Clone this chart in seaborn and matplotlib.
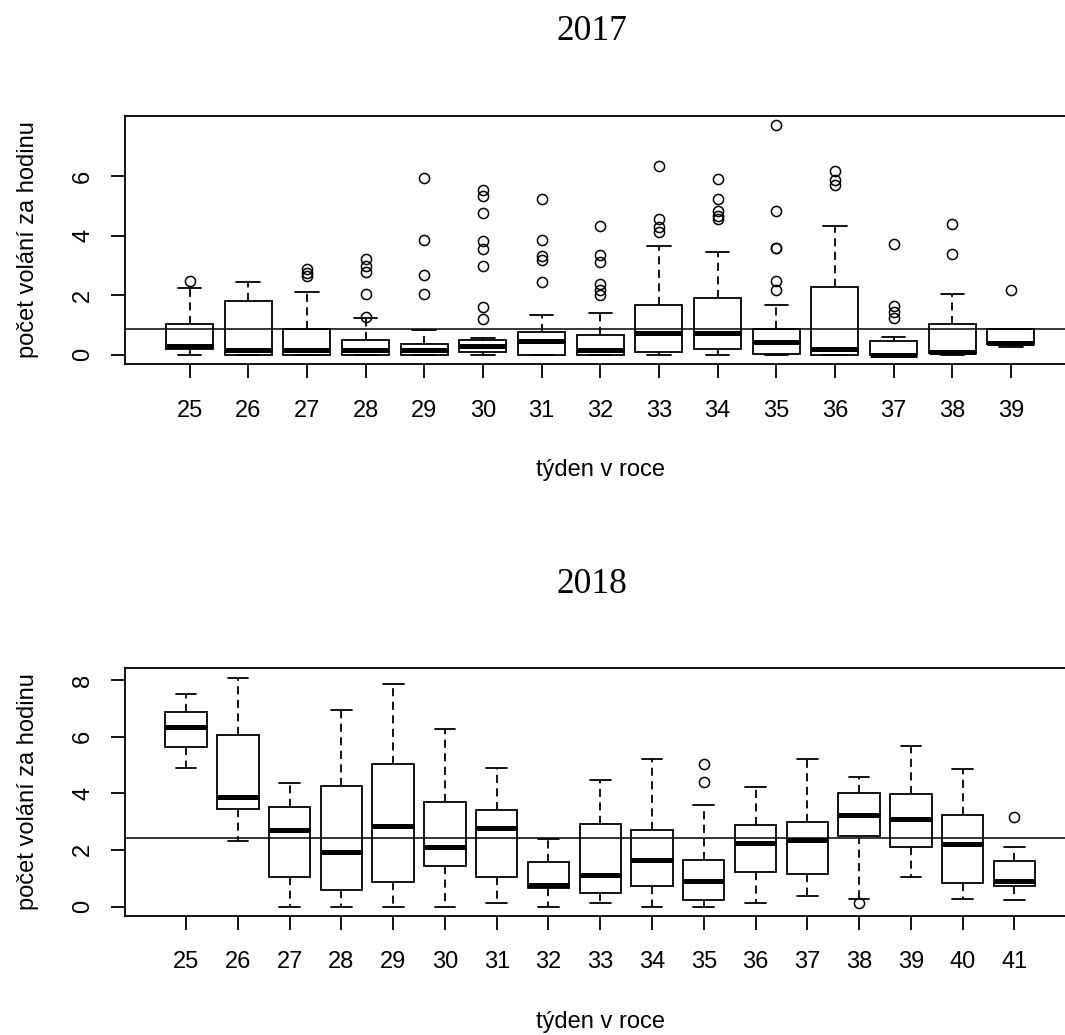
import matplotlib
matplotlib.use("Agg")
import matplotlib.pyplot as plt
import numpy as np
import pandas as pd
import seaborn as sns

# ---------------- data ----------------
weeks_2017 = [25, 26, 27, 28, 29, 30, 31, 32, 33, 34, 35, 36, 37, 38, 39]
lo_2017 = [0, 0, 0, 0, 0, 0, 0, 0, 0, 0, 0, 0, 0, 0, 0.26]
q1_2017 = [0.20, 0, 0, 0, 0, 0.09, 0, 0, 0.09, 0.20, 0.03, 0, 0, 0.06, 0.37]
med_2017 = [0.28, 0.15, 0.15, 0.17, 0.17, 0.28, 0.48, 0.17, 0.74, 0.74, 0.42, 0.20, 0.0, 0.09, 0.40]
q3_2017 = [1.04, 1.82, 0.87, 0.50, 0.35, 0.50, 0.78, 0.67, 1.66, 1.92, 0.85, 2.27, 0.48, 1.04, 0.85]
hi_2017 = [2.23, 2.44, 2.10, 1.24, 0.84, 0.56, 1.35, 1.41, 3.65, 3.44, 1.66, 4.32, 0.61, 2.04, 0.85]
out_2017 = [
    [2.49],
    [],
    [2.64, 2.74, 2.88],
    [1.26, 2.04, 2.77, 2.97, 3.22],
    [2.04, 2.66, 3.85, 5.94],
    [1.21, 1.62, 2.97, 3.55, 3.83, 4.75, 5.34, 5.53],
    [2.44, 3.18, 3.33, 3.85, 5.22],
    [2.02, 2.18, 2.36, 3.11, 3.36, 4.32],
    [4.12, 4.30, 4.55, 6.32],
    [4.55, 4.67, 4.82, 5.22, 5.89],
    [2.16, 2.49, 3.58, 3.58, 4.82, 7.70],
    [5.71, 5.87, 6.16],
    [1.24, 1.45, 1.65, 3.70],
    [3.39, 4.38],
    [2.19],
]
mean_2017 = 0.87

weeks_2018 = [25, 26, 27, 28, 29, 30, 31, 32, 33, 34, 35, 36, 37, 38, 39, 40, 41]
lo_2018 = [4.91, 2.32, 0, 0, 0, 0, 0.11, 0, 0.11, 0, 0, 0.11, 0.39, 0.28, 1.05, 0.28, 0.24]
q1_2018 = [5.62, 3.46, 1.04, 0.57, 0.88, 1.44, 1.04, 0.67, 0.49, 0.71, 0.24, 1.21, 1.15, 2.50, 2.09, 0.82, 0.72]
med_2018 = [6.35, 3.86, 2.70, 1.93, 2.86, 2.10, 2.76, 0.75, 1.10, 1.65, 0.90, 2.26, 2.36, 3.25, 3.09, 2.22, 0.90]
q3_2018 = [6.89, 6.06, 3.53, 4.25, 5.02, 3.70, 3.42, 1.56, 2.92, 2.70, 1.65, 2.87, 2.98, 4.00, 3.97, 3.22, 1.61]
hi_2018 = [7.51, 8.09, 4.36, 6.93, 7.88, 6.28, 4.91, 2.40, 4.47, 5.23, 3.58, 4.24, 5.23, 4.57, 5.67, 4.87, 2.09]
out_2018 = [[], [], [], [], [], [], [], [], [], [], [4.39, 5.05], [], [], [0.11], [], [], [3.15]]
mean_2018 = 2.43

title_2017 = "2017"
title_2018 = "2018"
xlabel_txt = "týden v roce"
ylabel_txt = "počet volání za hodinu"


def build_frame(weeks, lo, q1, med, q3, hi, outs, k=20):
    """Sample whose quartiles / whiskers / outliers equal the read values."""
    rows = []
    for w, a, b, c, d, e, o in zip(weeks, lo, q1, med, q3, hi, outs):
        vals = [a, e] + list(o) + [b] * k + [c] * k + [d] * k
        rows += [(str(w), v) for v in vals]
    return pd.DataFrame(rows, columns=["week", "value"])


# ---------------- style ----------------
sns.set_style("ticks")
plt.rcParams["font.family"] = ["Liberation Sans", "DejaVu Sans"]
plt.rcParams["axes.edgecolor"] = "black"
plt.rcParams["xtick.color"] = "black"
plt.rcParams["ytick.color"] = "black"
plt.rcParams["text.color"] = "black"
plt.rcParams["axes.labelcolor"] = "black"

W, H = 1065, 1035
fig = plt.figure(figsize=(W / 100, H / 100), dpi=100)
fig.patch.set_facecolor("white")

LEFT = 125.0
PW = 950.5
panels = [
    dict(weeks=weeks_2017, lo=lo_2017, q1=q1_2017, med=med_2017, q3=q3_2017, hi=hi_2017,
         outs=out_2017, mean=mean_2017, top=116.0, bottom=364.0, yticks=[0, 2, 4, 6],
         title=title_2017),
    dict(weeks=weeks_2018, lo=lo_2018, q1=q1_2018, med=med_2018, q3=q3_2018, hi=hi_2018,
         outs=out_2018, mean=mean_2018, top=668.4, bottom=915.7, yticks=[0, 2, 4, 6, 8],
         title=title_2018),
]

FS = 17
LW = 1.3
for p in panels:
    ph = p["bottom"] - p["top"]
    ax = fig.add_axes([LEFT / W, 1 - p["bottom"] / H, PW / W, ph / H])
    df = build_frame(p["weeks"], p["lo"], p["q1"], p["med"], p["q3"], p["hi"], p["outs"])
    order = [str(w) for w in p["weeks"]]
    sns.boxplot(
        data=df, x="week", y="value", order=order, ax=ax,
        color="white", linecolor="black", linewidth=LW, width=0.8, whis=1.5,
        fliersize=7.3,
        medianprops=dict(linewidth=3.6, color="black", solid_capstyle="butt"),
        whiskerprops=dict(linestyle=(0, (4.5, 3)), linewidth=LW, color="black"),
        capprops=dict(linewidth=LW, color="black"),
        flierprops=dict(marker="o", markerfacecolor="none", markeredgecolor="black",
                        markeredgewidth=1.1),
    )
    ax.axhline(p["mean"], color="black", linewidth=1.1, zorder=6)

    n = len(p["weeks"])
    ax.set_xlim(-0.5 - 0.04 * n, n - 0.5 + 0.04 * n)
    allv = np.concatenate([p["lo"], p["hi"]] + [np.array(o, dtype=float) for o in p["outs"] if o])
    vmin, vmax = allv.min(), allv.max()
    rng = vmax - vmin
    ax.set_ylim(vmin - 0.04 * rng, vmax + 0.04 * rng)

    ax.set_xticks(range(n), labels=order, fontsize=FS)
    ax.set_yticks(p["yticks"], labels=[str(t) for t in p["yticks"]], fontsize=FS,
                  rotation=90, va="center", ha="center")
    ax.tick_params(axis="both", length=10.4, width=LW, direction="out")
    ax.tick_params(axis="x", pad=15.3)
    ax.tick_params(axis="y", pad=19.8)
    for sp in ax.spines.values():
        sp.set_visible(True)
        sp.set_linewidth(1.3)
        sp.set_color("black")
    ax.grid(False)

    ax.set_xlabel(xlabel_txt, fontsize=FS, va="center")
    ax.xaxis.set_label_coords(0.5, (p["bottom"] - (p["bottom"] + 106)) / ph)
    ax.set_ylabel(ylabel_txt, fontsize=FS, va="center")
    ax.yaxis.set_label_coords((28 - LEFT) / PW, 0.5)

    fig.text(591.7 / W, 1 - (p["top"] - 75.5) / H, p["title"], ha="center", va="baseline",
             family=["Liberation Serif", "DejaVu Serif"], fontsize=25.5)

fig.savefig("out.png", dpi=100, facecolor="white")
